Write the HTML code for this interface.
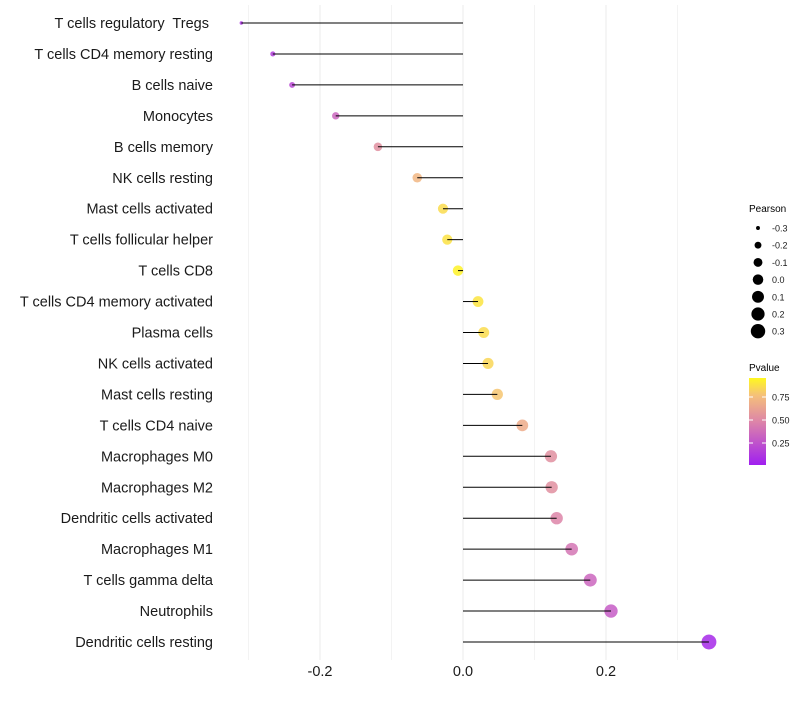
<!DOCTYPE html>
<html><head><meta charset="utf-8">
<style>
body{margin:0;background:#fff;font-family:"Liberation Sans",sans-serif;}
svg text{font-family:"Liberation Sans",sans-serif;white-space:pre;}
</style></head>
<body>
<svg id="chart" width="800" height="700" xmlns="http://www.w3.org/2000/svg">
<defs>
<linearGradient id="pgrad" x1="0" y1="1" x2="0" y2="0">
<stop offset="0" stop-color="#a01ff0"/>
<stop offset="0.5" stop-color="#dd85a8"/>
<stop offset="0.8" stop-color="#f5c07a"/>
<stop offset="1" stop-color="#fff81f"/>
</linearGradient>
</defs>
<g id="grid"></g>
<g id="points"></g>
<g id="marks"></g>
<g id="ylabels"></g>
<g id="xlabels"></g>
<g id="legend-size">
<text x="749" y="212" font-size="10" fill="#000">Pearson</text>
</g>
<g>
<text x="749" y="371" font-size="10" fill="#000">Pvalue</text>
<rect x="749" y="378" width="17" height="87" fill="url(#pgrad)"/>
<g id="cbticks"></g>
</g>
</svg>
<script>
const categories = ["T cells regulatory  Tregs ","T cells CD4 memory resting","B cells naive","Monocytes","B cells memory","NK cells resting","Mast cells activated","T cells follicular helper","T cells CD8","T cells CD4 memory activated","Plasma cells","NK cells activated","Mast cells resting","T cells CD4 naive","Macrophages M0","Macrophages M2","Dendritic cells activated","Macrophages M1","T cells gamma delta","Neutrophils","Dendritic cells resting"];
const pearson = [-0.310,-0.266,-0.239,-0.178,-0.119,-0.064,-0.028,-0.022,-0.007,0.021,0.029,0.035,0.048,0.083,0.123,0.124,0.131,0.152,0.178,0.207,0.344];
const pvalues = [0.10,0.15,0.20,0.35,0.55,0.75,0.90,0.92,0.98,0.93,0.90,0.88,0.82,0.70,0.55,0.55,0.50,0.42,0.35,0.30,0.05];
const xTicks = [-0.2,0.0,0.2];
const xTickLabels = ["-0.2","0.0","0.2"];
const gridVals = [-0.3,-0.2,-0.1,0,0.1,0.2,0.3];
const sizeLegendVals = [-0.3,-0.2,-0.1,0.0,0.1,0.2,0.3];
const sizeLegendLabels = ["-0.3","-0.2","-0.1","0.0","0.1","0.2","0.3"];
const cbVals = [0.25,0.5,0.75];
const cbLabels = ["0.25","0.50","0.75"];

const NS="http://www.w3.org/2000/svg";
const xs = v => 463 + v*715;
const ys = i => 23 + i*30.95;
const rs = v => Math.sqrt(3 + 80*(v+0.31));
const stops=[[0,[160,31,240]],[0.5,[221,133,168]],[0.8,[245,192,122]],[1,[255,248,31]]];
function col(p){
  for(let i=1;i<stops.length;i++){ if(p<=stops[i][0]){const a=stops[i-1],b=stops[i];const t=(p-a[0])/(b[0]-a[0]);
    return "rgb("+a[1].map((c,k)=>Math.round(c+(b[1][k]-c)*t)).join(",")+")";}}
  return "rgb(255,248,31)";
}
function mk(tag,attrs,parent){const e=document.createElementNS(NS,tag);for(const k in attrs)e.setAttribute(k,attrs[k]);parent.appendChild(e);return e;}
const grid=document.getElementById("grid"),marks=document.getElementById("marks"),pts=document.getElementById("points"),yl=document.getElementById("ylabels"),xl=document.getElementById("xlabels");
gridVals.forEach(v=>{
  const l=mk("line",{x1:xs(v),x2:xs(v),y1:5,y2:660,stroke:"#ebebeb","stroke-width":Math.abs(Math.round(v*10))%2===0?1:0.6},grid);
  
  
});
categories.forEach((c,i)=>{
  const t=mk("text",{x:213,y:ys(i)+5,"font-size":14.5,"text-anchor":"end",fill:"#1a1a1a"},yl);
  t.textContent=c;
  
  
  const ci=mk("circle",{cx:xs(pearson[i]),cy:ys(i),r:rs(pearson[i]),fill:col(pvalues[i]),"fill-opacity":0.85},pts);
  
  
  const ln=mk("line",{x1:xs(0),x2:xs(pearson[i]),y1:ys(i),y2:ys(i),stroke:"#000","stroke-width":1},marks);
  
  
});
xTicks.forEach((v,i)=>{
  const t=mk("text",{x:xs(v),y:676,"font-size":14.5,"text-anchor":"middle",fill:"#1a1a1a"},xl);
  t.textContent=xTickLabels[i];
  
  
});
const ls=document.getElementById("legend-size");
sizeLegendVals.forEach((v,i)=>{
  const y=228+i*17.2;
  const c=mk("circle",{cx:758,cy:y,r:rs(v),fill:"#000"},ls);
  
  
  const t=mk("text",{x:772,y:y+3.5,"font-size":9,fill:"#1a1a1a"},ls);
  t.textContent=sizeLegendLabels[i];
  
  
});
const cb=document.getElementById("cbticks");
cbVals.forEach((v,i)=>{
  const y=466-v*92;
  mk("line",{x1:749,x2:753,y1:y,y2:y,stroke:"#fff","stroke-width":1},cb);
  mk("line",{x1:762,x2:766,y1:y,y2:y,stroke:"#fff","stroke-width":1},cb);
  const t=mk("text",{x:772,y:y+3.5,"font-size":9,fill:"#1a1a1a"},cb);
  t.textContent=cbLabels[i];
  
  
});
</script>
</body></html>
